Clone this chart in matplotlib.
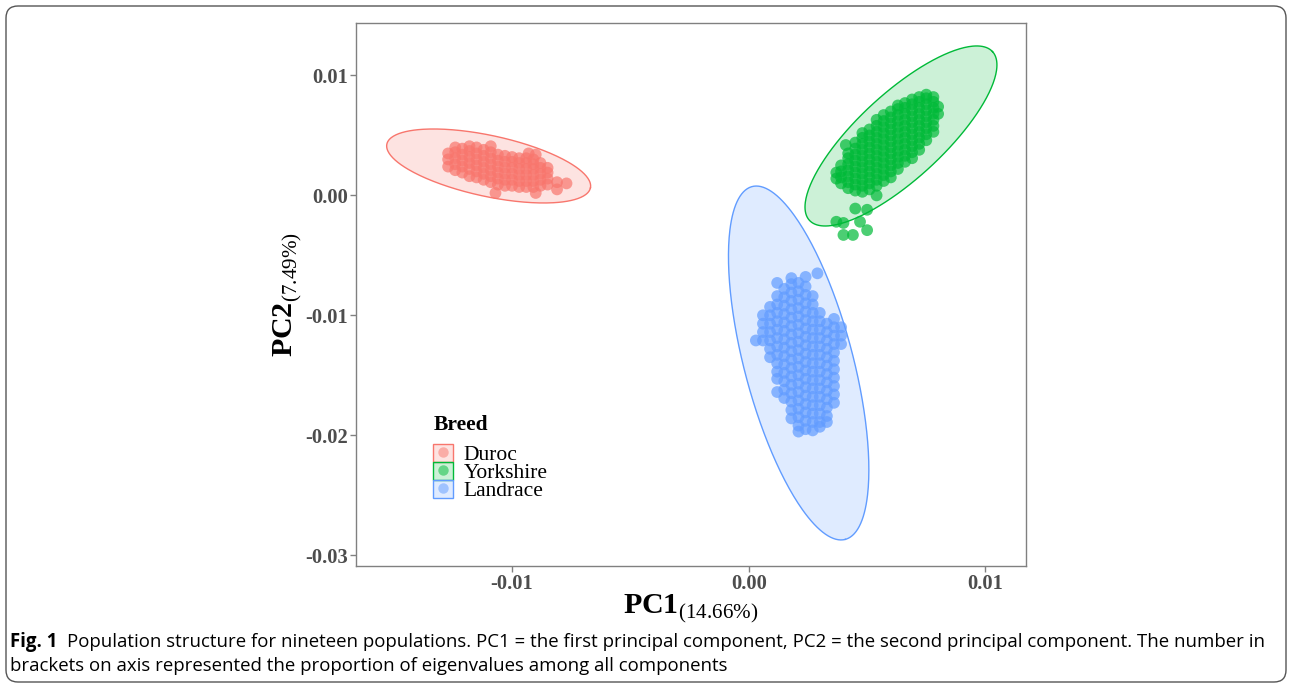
import numpy as np
import matplotlib
matplotlib.use('Agg')
import matplotlib.pyplot as plt
from matplotlib.patches import Patch, FancyBboxPatch
from matplotlib.lines import Line2D
from matplotlib.transforms import IdentityTransform

plt.rcParams['font.family'] = ['Liberation Serif', 'DejaVu Serif']
plt.rcParams['mathtext.fontset'] = 'custom'
plt.rcParams['mathtext.rm'] = 'Liberation Serif'
plt.rcParams['mathtext.bf'] = 'Liberation Serif:bold'
plt.rcParams['axes.unicode_minus'] = False

# --- data (PC1 value -> PC2 values of the points in that column) ---
breeds = ['Duroc', 'Yorkshire', 'Landrace']
colors = ['#F8766D', '#00BA38', '#619CFF']

duroc_cols = [
    (-0.0127, [0.0024, 0.0030, 0.0035]),
    (-0.0124, [0.0021, 0.0026, 0.0031, 0.0036, 0.0040]),
    (-0.0121, [0.0019, 0.0024, 0.0029, 0.0034, 0.0039]),
    (-0.0118, [0.0016, 0.0022, 0.0027, 0.0032, 0.0037, 0.0041]),
    (-0.0115, [0.0015, 0.0020, 0.0025, 0.0030, 0.0035, 0.0040]),
    (-0.0112, [0.0013, 0.0018, 0.0023, 0.0028, 0.0033, 0.0038]),
    (-0.0109, [0.0011, 0.0016, 0.0021, 0.0026, 0.0031, 0.0036, 0.0041]),
    (-0.0106, [0.0009, 0.0014, 0.0019, 0.0024, 0.0029, 0.0034]),
    (-0.0103, [0.0008, 0.0013, 0.0018, 0.0023, 0.0028, 0.0033]),
    (-0.0100, [0.0008, 0.0013, 0.0018, 0.0023, 0.0028, 0.0032]),
    (-0.0097, [0.0007, 0.0012, 0.0017, 0.0022, 0.0027, 0.0031]),
    (-0.0094, [0.0007, 0.0012, 0.0017, 0.0022, 0.0027, 0.0031]),
    (-0.0091, [0.0007, 0.0012, 0.0017, 0.0022, 0.0026, 0.0030]),
    (-0.0088, [0.0008, 0.0013, 0.0018, 0.0023, 0.0027]),
    (-0.0085, [0.0009, 0.0014, 0.0019, 0.0023]),
    (-0.0081, [0.0011, 0.0005]),
    (-0.0077, [0.0010]),
    (-0.0107, [0.0002]),
    (-0.0093, [0.0035]),
    (-0.0090, [0.0034, 0.0002]),
]

yorkshire_cols = [
    (0.0037, [0.0014, 0.0019, -0.0022]),
    (0.0039, [0.0010, 0.0015, 0.0020, 0.0025]),
    (0.0040, [-0.0033, -0.0023]),
    (0.0041, [0.0042]),
    (0.0042, [0.0006, 0.0011, 0.0016, 0.0021, 0.0026, 0.0031, 0.0035]),
    (0.0044, [-0.0033]),
    (0.0045, [0.0004, 0.0009, 0.0014, 0.0019, 0.0024, 0.0029, 0.0034, 0.0039, 0.0044, -0.0011]),
    (0.0047, [-0.0022]),
    (0.0048, [0.0003, 0.0008, 0.0013, 0.0018, 0.0023, 0.0028, 0.0033, 0.0038, 0.0043, 0.0048, 0.0052]),
    (0.0050, [-0.0012, -0.0029]),
    (0.0051, [0.0005, 0.0010, 0.0015, 0.0020, 0.0025, 0.0030, 0.0035, 0.0040, 0.0045, 0.0050, 0.0055]),
    (0.0054, [0.0008, 0.0013, 0.0018, 0.0023, 0.0028, 0.0033, 0.0038, 0.0043, 0.0048, 0.0053, 0.0058, 0.0063, 0.0000]),
    (0.0057, [0.0012, 0.0017, 0.0022, 0.0027, 0.0032, 0.0037, 0.0042, 0.0047, 0.0052, 0.0057, 0.0062, 0.0067]),
    (0.0060, [0.0015, 0.0020, 0.0025, 0.0030, 0.0035, 0.0040, 0.0045, 0.0050, 0.0055, 0.0060, 0.0065, 0.0070]),
    (0.0063, [0.0022, 0.0027, 0.0032, 0.0037, 0.0042, 0.0047, 0.0052, 0.0057, 0.0062, 0.0067, 0.0072, 0.0075]),
    (0.0066, [0.0028, 0.0033, 0.0038, 0.0043, 0.0048, 0.0053, 0.0058, 0.0063, 0.0068, 0.0073, 0.0077]),
    (0.0069, [0.0031, 0.0036, 0.0041, 0.0046, 0.0051, 0.0056, 0.0061, 0.0066, 0.0071, 0.0076, 0.0080]),
    (0.0072, [0.0038, 0.0043, 0.0048, 0.0053, 0.0058, 0.0063, 0.0068, 0.0073, 0.0078, 0.0082]),
    (0.0075, [0.0046, 0.0051, 0.0056, 0.0061, 0.0066, 0.0071, 0.0076, 0.0081, 0.0084]),
    (0.0078, [0.0053, 0.0058, 0.0063, 0.0068, 0.0073, 0.0078, 0.0082]),
    (0.0080, [0.0068, 0.0074]),
]

landrace_cols = [
    (0.0003, [-0.0121]),
    (0.0006, [-0.0100, -0.0107, -0.0114, -0.0121]),
    (0.0009, [-0.0093, -0.0100, -0.0107, -0.0114, -0.0121, -0.0128, -0.0135]),
    (0.0012, [-0.0073, -0.0084, -0.0091, -0.0098, -0.0105, -0.0112, -0.0119, -0.0126,
              -0.0133, -0.0140, -0.0147, -0.0153, -0.0164]),
    (0.0015, [-0.0078, -0.0085, -0.0092, -0.0099, -0.0106, -0.0113, -0.0120, -0.0127,
              -0.0134, -0.0141, -0.0148, -0.0155, -0.0162, -0.0169]),
    (0.0018, [-0.0069, -0.0074, -0.0081, -0.0088, -0.0095, -0.0102, -0.0109, -0.0116, -0.0123,
              -0.0130, -0.0137, -0.0144, -0.0151, -0.0158, -0.0165, -0.0172, -0.0179, -0.0186]),
    (0.0021, [-0.0073, -0.0080, -0.0087, -0.0094, -0.0101, -0.0108, -0.0115, -0.0122, -0.0129,
              -0.0136, -0.0143, -0.0150, -0.0157, -0.0164, -0.0171, -0.0178, -0.0185, -0.0192, -0.0197]),
    (0.0024, [-0.0068, -0.0076, -0.0083, -0.0090, -0.0097, -0.0104, -0.0111, -0.0118, -0.0125,
              -0.0132, -0.0139, -0.0146, -0.0153, -0.0160, -0.0167, -0.0174, -0.0181, -0.0188, -0.0195]),
    (0.0027, [-0.0084, -0.0091, -0.0098, -0.0105, -0.0112, -0.0119, -0.0126, -0.0133, -0.0140,
              -0.0147, -0.0154, -0.0161, -0.0168, -0.0175, -0.0182, -0.0189, -0.0196]),
    (0.0029, [-0.0065]),
    (0.0030, [-0.0098, -0.0105, -0.0112, -0.0119, -0.0126, -0.0133, -0.0140, -0.0147,
              -0.0154, -0.0161, -0.0168, -0.0175, -0.0182, -0.0189, -0.0193]),
    (0.0033, [-0.0107, -0.0114, -0.0121, -0.0128, -0.0135, -0.0142, -0.0149, -0.0156,
              -0.0163, -0.0170, -0.0177, -0.0184, -0.0189]),
    (0.0036, [-0.0103, -0.0110, -0.0117, -0.0124, -0.0131, -0.0138, -0.0145, -0.0152,
              -0.0159, -0.0166, -0.0173]),
    (0.0039, [-0.0110, -0.0117, -0.0124]),
]

# ellipse: centre, and two conjugate semi-axes (PC1, PC2)
ell_center = [(-0.010989, 0.002452), (0.006430, 0.004954), (0.002108, -0.013978)]
ell_axis_a = [(0.004300, -0.001827), (0.003866, 0.007039), (0.001969, -0.014712)]
ell_axis_b = [(-0.000271, -0.002486), (-0.001221, 0.002611), (-0.002218, -0.001159)]

xticks = [-0.01, 0.00, 0.01]
yticks = [0.01, 0.00, -0.01, -0.02, -0.03]


def flatten(cols):
    xs, ys = [], []
    for x, col in cols:
        xs += [x] * len(col)
        ys += col
    return np.array(xs), np.array(ys)


fig = plt.figure(figsize=(12.92, 6.86), dpi=100)
ax = fig.add_axes([0.2755, 0.1749, 0.5186, 0.7919])

t = np.linspace(0, 2 * np.pi, 300)
for i, col in enumerate(colors):
    cx, cy = ell_center[i]
    ax_, ay_ = ell_axis_a[i]
    bx_, by_ = ell_axis_b[i]
    ex = cx + ax_ * np.cos(t) + bx_ * np.sin(t)
    ey = cy + ay_ * np.cos(t) + by_ * np.sin(t)
    ax.fill(ex, ey, facecolor=col, alpha=0.2, edgecolor='none', zorder=1)
    ax.plot(ex, ey, color=col, lw=1.0, zorder=2)

for cols, col in zip([duroc_cols, yorkshire_cols, landrace_cols], colors):
    px, py = flatten(cols)
    ax.scatter(px, py, s=72, color=col, alpha=0.7, edgecolors='none', zorder=3)

ax.set_xlim(-0.016595, 0.011711)
ax.set_ylim(-0.03091, 0.014395)
ax.set_xticks(xticks)
ax.set_xticklabels(['%.2f' % v for v in xticks])
ax.set_yticks(yticks)
ax.set_yticklabels(['%.2f' % v for v in yticks])
ax.tick_params(length=4, width=1, color='#808080', labelcolor='#4D4D4D', labelsize=14.8, pad=1.5)
for lab in ax.get_xticklabels() + ax.get_yticklabels():
    lab.set_fontweight('bold')
for sp in ax.spines.values():
    sp.set_color('#808080')
    sp.set_linewidth(1.0)

ax.set_xlabel(r'$\mathbf{PC1}_{\mathrm{(14.66\%)}}$', fontsize=21.6)
ax.set_ylabel(r'$\mathbf{PC2}_{\mathrm{(7.49\%)}}$', fontsize=21.6)
ax.xaxis.set_label_coords(0.5, -0.05)
ax.yaxis.set_label_coords(-0.077, 0.5)

handles = [(Patch(facecolor=c, alpha=0.2, edgecolor='none'),
            Patch(facecolor='none', edgecolor=c, lw=1.0),
            Line2D([], [], marker='o', ls='', color=c, alpha=0.5, markersize=7.5, markeredgewidth=0))
           for c in colors]
leg = ax.legend(handles, breeds, title='Breed', loc='upper left', bbox_to_anchor=(0.093, 0.305),
                frameon=False, fontsize=15.5, title_fontproperties={'weight': 'bold', 'size': 15.5},
                handlelength=0.9, handleheight=0.9, handletextpad=0.5, labelspacing=-0.15,
                borderpad=0.2)
leg._legend_box.align = 'left'
leg._legend_box.sep = 6

# outer frame and caption
frame = FancyBboxPatch((6, 4), 1280, 676, boxstyle='round,pad=0,rounding_size=12',
                       transform=IdentityTransform(), facecolor='none', edgecolor='#555555', lw=1.0)
fig.patches.append(frame)
cap_font = ['Open Sans', 'DejaVu Sans']
fig.text(10 / 1292, 1 - 642 / 686, 'Fig. 1', family=cap_font, fontweight='bold', fontsize=13.4, va='center')
fig.text(67 / 1292, 1 - 642 / 686,
         'Population structure for nineteen populations. PC1 = the first principal component, '
         'PC2 = the second principal component. The number in',
         family=cap_font, fontsize=13.4, va='center')
fig.text(10 / 1292, 1 - 666 / 686,
         'brackets on axis represented the proportion of eigenvalues among all components',
         family=cap_font, fontsize=13.4, va='center')

fig.savefig('out.png', dpi=100)
